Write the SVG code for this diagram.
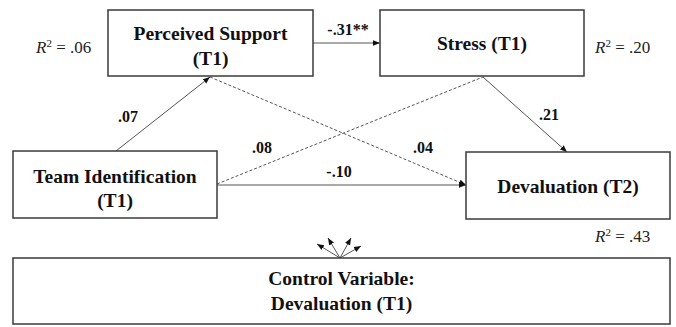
<svg xmlns="http://www.w3.org/2000/svg" width="676" height="327" viewBox="0 0 676 327">
<style>
.box{fill:#fff;stroke:#3a3a3a;stroke-width:1.5}
.t{font-weight:bold;font-size:19.5px;fill:#111;text-anchor:middle}
.l{font-weight:bold;font-size:16px;fill:#111;text-anchor:middle}
.r{font-size:17px;fill:#222}
.c{fill:none;stroke:#555;stroke-width:1}
.d{stroke-dasharray:3,2}
</style>
<defs>
<marker id="ah" viewBox="0 0 10 10" refX="10" refY="5" markerWidth="7" markerHeight="7" orient="auto" markerUnits="userSpaceOnUse">
<path d="M0,1 L10,5 L0,9 z" fill="#111"/>
</marker>
</defs>
<g id="connectors">
<line class="c" x1="116" y1="151" x2="210" y2="77" marker-end="url(#ah)"/>
<line class="c" x1="313" y1="43" x2="380" y2="43" marker-end="url(#ah)"/>
<line class="c d" x1="210" y1="77" x2="466" y2="185" marker-end="url(#ah)"/>
<line class="c d" x1="217" y1="184" x2="483" y2="77"/>
<line class="c" x1="217" y1="185" x2="466" y2="185" marker-end="url(#ah)"/>
<line class="c" x1="483" y1="77" x2="567" y2="152" marker-end="url(#ah)"/>
<line class="c" x1="340" y1="258" x2="317" y2="244" marker-end="url(#ah)"/>
<line class="c" x1="340" y1="258" x2="328" y2="238" marker-end="url(#ah)"/>
<line class="c" x1="340" y1="258" x2="351" y2="238" marker-end="url(#ah)"/>
<line class="c" x1="340" y1="258" x2="361" y2="246" marker-end="url(#ah)"/>
</g>
<g font-family="Liberation Serif, Times New Roman, serif">
<g id="labels">
<text class="l" x="128" y="122">.07</text>
<text class="l" x="348" y="35">-.31**</text>
<text class="l" x="549" y="120">.21</text>
<text class="l" x="262" y="153">.08</text>
<text class="l" x="423" y="153">.04</text>
<text class="l" x="339" y="177">-.10</text>
<text class="r" x="36" y="53"><tspan font-style="italic">R</tspan><tspan font-size="11" dy="-6">2</tspan><tspan dy="6"> = .06</tspan></text>
<text class="r" x="595" y="53"><tspan font-style="italic">R</tspan><tspan font-size="11" dy="-6">2</tspan><tspan dy="6"> = .20</tspan></text>
<text class="r" x="595" y="242"><tspan font-style="italic">R</tspan><tspan font-size="11" dy="-6">2</tspan><tspan dy="6"> = .43</tspan></text>
</g>
<g id="perceived-support">
<rect class="box" x="108" y="10" width="205" height="66"/>
<text class="t" x="210.5" y="40">Perceived Support</text>
<text class="t" x="210.5" y="65">(T1)</text>
</g>
<g id="stress">
<rect class="box" x="380" y="10" width="204" height="66"/>
<text class="t" x="482" y="50">Stress (T1)</text>
</g>
<g id="team-identification">
<rect class="box" x="13" y="151" width="204" height="67"/>
<text class="t" x="115" y="183">Team Identification</text>
<text class="t" x="115" y="207">(T1)</text>
</g>
<g id="devaluation-t2">
<rect class="box" x="466" y="152" width="204" height="67"/>
<text class="t" x="568" y="193">Devaluation (T2)</text>
</g>
<g id="control">
<rect class="box" x="13" y="258" width="657" height="66"/>
<text class="t" x="341.5" y="285">Control Variable:</text>
<text class="t" x="341.5" y="310">Devaluation (T1)</text>
</g>
</g>
</svg>
